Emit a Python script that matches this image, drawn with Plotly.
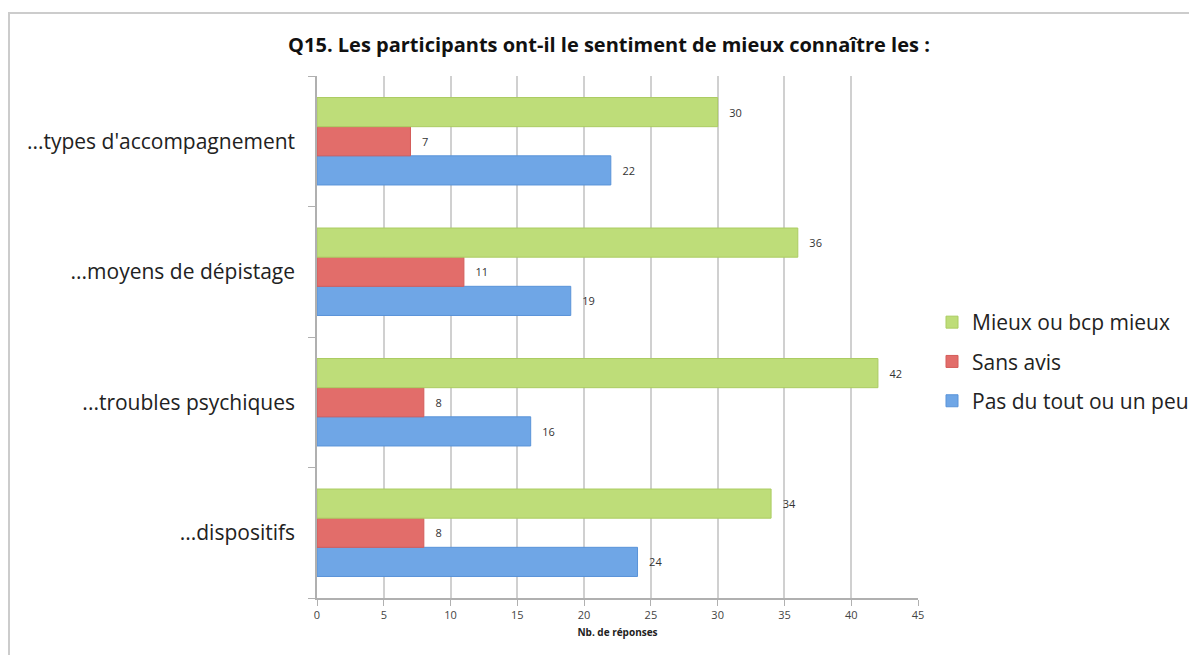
import plotly.graph_objects as go

categories = ["...dispositifs", "...troubles psychiques", "...moyens de dépistage", "...types d'accompagnement"]
series_names = ["Pas du tout ou un peu", "Sans avis", "Mieux ou bcp mieux"]
pas_du_tout = [24, 16, 19, 22]
sans_avis = [8, 8, 11, 7]
mieux = [34, 42, 36, 30]
x_ticks = [0, 5, 10, 15, 20, 25, 30, 35, 40, 45]

colors = ["#6fa6e6", "#e26d6a", "#bedd79"]
line_colors = ["#5a93d8", "#d45d5a", "#abcc62"]
ranks = [3, 2, 1]

OFF = 8  # page body margin
W, H = 1197 - OFF, 655 - OFF
L, T = 317 - OFF, 76 - OFF
PR, PB = 918 - OFF, 598 - OFF
R, B = W - PR, H - PB
pw, ph = PR - L, PB - T

FONT = "Open Sans"

fig = go.Figure()
for name, vals, c, lc, rk in zip(series_names, [pas_du_tout, sans_avis, mieux], colors, line_colors, ranks):
    fig.add_trace(go.Bar(
        y=categories, x=vals, name=name, orientation="h", legendgroup=name, legendrank=rk,
        marker=dict(color=c, line=dict(color=lc, width=1)),
        text=["   " + str(v) for v in vals], textposition="outside",
        textfont=dict(size=11, color="#333333", family=FONT),
        cliponaxis=False,
    ))

def px_to_paper_x(p):
    return (p - OFF - L) / pw

def px_to_paper_y(p):
    return (PB - (p - OFF)) / ph

fig.add_shape(type="rect", xref="paper", yref="paper",
              x0=px_to_paper_x(9), x1=px_to_paper_x(1220),
              y0=px_to_paper_y(690), y1=px_to_paper_y(13),
              line=dict(color="#cccccc", width=2), layer="below")

fig.update_layout(
    width=W, height=H,
    margin=dict(l=L, r=R, t=T, b=B, autoexpand=False),
    paper_bgcolor="white", plot_bgcolor="white",
    barmode="group", bargap=0.33, bargroupgap=0,
    font=dict(family=FONT, color="#222222"),
    title=dict(text="<b>Q15. Les participants ont-il le sentiment de mieux connaître les :</b>",
               x=(609 - OFF) / W, xanchor="center", y=1 - (45 - OFF) / H, yanchor="middle",
               font=dict(size=20, color="#111111", family=FONT)),
    legend=dict(xref="container", x=(932 - OFF) / W, y=px_to_paper_y(302), xanchor="left", yanchor="top",
                traceorder="grouped", font=dict(size=21, color="#222222"),
                itemwidth=30, tracegroupgap=9, bgcolor="rgba(0,0,0,0)"),
    showlegend=True,
    xaxis=dict(range=[0, 45], tickvals=x_ticks, showgrid=True, gridcolor="#d0d0d0", gridwidth=1.5,
               showline=True, linecolor="#b0b0b0", linewidth=1.5, ticks="outside", ticklen=6,
               tickcolor="#b0b0b0", tickfont=dict(size=11, color="#444444"), zeroline=False,
               title=dict(text="<b>Nb. de réponses</b>", font=dict(size=10, color="#222222"), standoff=8)),
    yaxis=dict(showline=True, linecolor="#b0b0b0", linewidth=1.5, ticks="outside", tickson="boundaries",
               ticklen=7, tickcolor="#b0b0b0", tickfont=dict(size=21, color="#222222"),
               showgrid=False, ticklabelstandoff=16),
)

fig.write_html("out.html")
